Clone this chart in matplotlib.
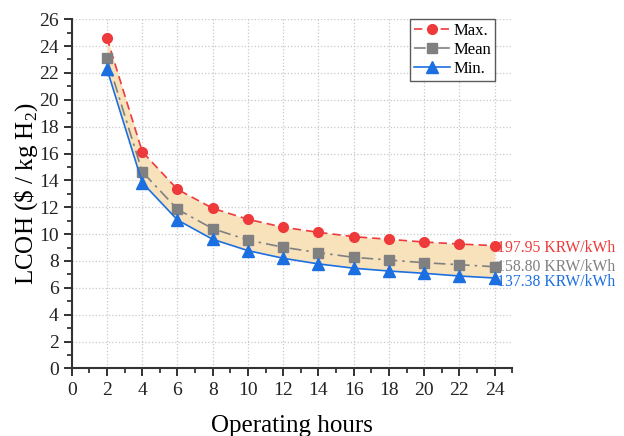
import numpy as np
import matplotlib.pyplot as plt
from matplotlib.ticker import MultipleLocator

plt.rcParams['font.family'] = ['Liberation Serif', 'DejaVu Serif']
plt.rcParams['mathtext.fontset'] = 'custom'
plt.rcParams['mathtext.rm'] = 'Liberation Serif'

hours = [2, 4, 6, 8, 10, 12, 14, 16, 18, 20, 22, 24]
lcoh_max = [24.6, 16.13, 13.33, 11.92, 11.10, 10.51, 10.13, 9.81, 9.61, 9.41, 9.26, 9.14]
lcoh_mean = [23.08, 14.64, 11.85, 10.40, 9.56, 9.02, 8.62, 8.27, 8.07, 7.87, 7.72, 7.57]
lcoh_min = [22.28, 13.83, 11.05, 9.61, 8.77, 8.20, 7.78, 7.46, 7.25, 7.08, 6.88, 6.73]
end_labels = ["197.95 KRW/kWh", "158.80 KRW/kWh", "137.38 KRW/kWh"]

c_max = '#EE3A3A'
c_mean = '#808080'
c_min = '#1C6FE0'

fig = plt.figure(figsize=(6.24, 4.36), dpi=100)
ax = fig.add_axes([0.115, 0.155, 0.706, 0.801])

ax.fill_between(hours, lcoh_min, lcoh_max, color='#F8E2BC', zorder=1, linewidth=0)
ax.plot(hours, lcoh_max, color=c_max, linestyle=(0, (5, 3)), linewidth=1.2,
        marker='o', markersize=7, label='Max.', zorder=3)
ax.plot(hours, lcoh_mean, color=c_mean, linestyle=(0, (7, 3, 1.5, 3)), linewidth=1.2,
        marker='s', markersize=6.5, label='Mean', zorder=3)
ax.plot(hours, lcoh_min, color=c_min, linestyle='-', linewidth=1.2,
        marker='^', markersize=8, label='Min.', zorder=3)

for vals, txt, col, dy in zip([lcoh_max, lcoh_mean, lcoh_min], end_labels,
                              [c_max, c_mean, c_min], [-1.5, 0, -3]):
    ax.annotate(txt, xy=(hours[-1], vals[-1]), xytext=(2, dy), textcoords='offset points',
                color=col, fontsize=11.3, va='center', ha='left', annotation_clip=False)

ax.set_xlim(0, 25)
ax.set_ylim(0, 26)
ax.xaxis.set_major_locator(MultipleLocator(2))
ax.xaxis.set_minor_locator(MultipleLocator(1))
ax.yaxis.set_major_locator(MultipleLocator(2))
ax.yaxis.set_minor_locator(MultipleLocator(1))
ax.grid(True, which='major', linestyle=':', color='#C8C8C8', linewidth=0.9, zorder=0)
ax.set_axisbelow(True)

for s in ['top', 'right']:
    ax.spines[s].set_visible(False)
for s in ['left', 'bottom']:
    ax.spines[s].set_linewidth(1.5)
    ax.spines[s].set_color('#333333')
ax.tick_params(which='major', direction='out', length=6, width=1.3, labelsize=14, colors='#222222')
ax.tick_params(which='minor', direction='out', length=3.5, width=1.2, colors='#222222')

ax.set_xlabel('Operating hours', fontsize=18, labelpad=12)
ax.set_ylabel(r'LCOH (\$ / kg H$_{\mathrm{2}}$)', fontsize=18, labelpad=-1)

leg = ax.legend(loc='upper right', bbox_to_anchor=(0.96, 1.0), fontsize=12, frameon=True,
                fancybox=False, edgecolor='#333333', borderpad=0.2, labelspacing=0.2,
                handlelength=2.2, handletextpad=0.2, borderaxespad=0.0)
leg.get_frame().set_linewidth(1.0)

fig.savefig('out.png', dpi=100)
